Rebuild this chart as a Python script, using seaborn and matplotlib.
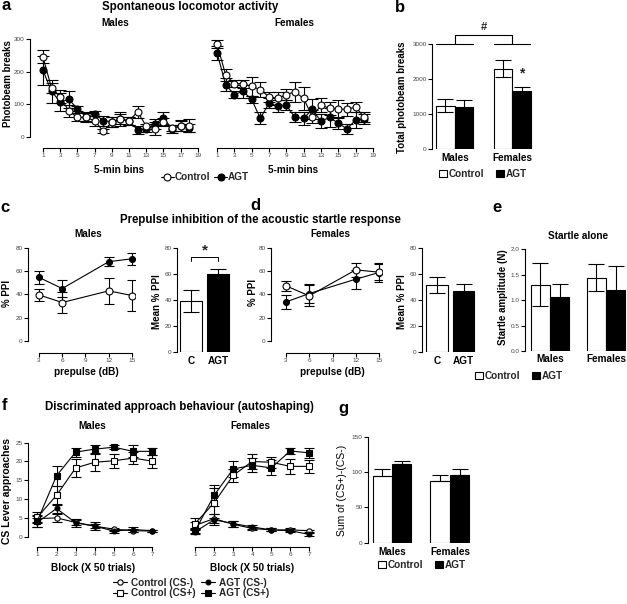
import numpy as np
import pandas as pd
import matplotlib
matplotlib.use("Agg")
import matplotlib.pyplot as plt
import seaborn as sns

sns.set_theme(style="ticks")
plt.rcParams['font.family'] = ['Liberation Sans', 'DejaVu Sans']

W, H = 627, 604

# ---------- data ----------
# a: spontaneous locomotor activity (5-min bins)
bins = list(range(1, 19))
loco_m_ctrl = [245, 150, 123, 80, 60, 60, 50, 18, 45, 55, 50, 77, 33, 25, 45, 28, 33, 35]
loco_m_ctrl_err = [20, 15, 20, 18, 12, 12, 15, 5, 15, 20, 12, 18, 8, 20, 12, 10, 15, 20]
loco_m_agt = [204, 140, 107, 115, 87, 62, 71, 50, 47, 55, 48, 22, 25, 40, 58, 25, 35, 27]
loco_m_agt_err = [45, 35, 28, 25, 8, 15, 8, 15, 15, 15, 12, 12, 10, 15, 20, 12, 18, 12]
loco_f_ctrl = [285, 190, 163, 163, 155, 145, 123, 118, 130, 138, 118, 62, 97, 88, 85, 85, 92, 60]
loco_f_ctrl_err = [12, 18, 10, 12, 28, 22, 15, 20, 18, 30, 35, 20, 22, 20, 28, 20, 15, 15]
loco_f_agt = [258, 160, 130, 140, 115, 57, 103, 95, 97, 60, 57, 85, 48, 60, 42, 25, 52, 55]
loco_f_agt_err = [22, 20, 12, 20, 10, 18, 15, 18, 15, 15, 20, 30, 22, 28, 18, 15, 25, 15]

# b: total photobeam breaks
sexes = ['Males', 'Females']
groups = ['Control', 'AGT']
total_ctrl = [1230, 2300]
total_ctrl_err = [185, 250]
total_agt = [1200, 1650]
total_agt_err = [200, 125]

# c, d: prepulse inhibition
prepulse = [3, 6, 12, 15]
ppi_m_ctrl = [39.5, 33, 43, 39]
ppi_m_ctrl_err = [5.5, 8.7, 11, 13]
ppi_m_agt = [54.5, 45, 68, 70.5]
ppi_m_agt_err = [5.3, 7, 3.7, 5.3]
ppi_f_ctrl = [47.3, 38.7, 61, 59]
ppi_f_ctrl_err = [4.5, 9, 6, 7]
ppi_f_agt = [33.5, 40.7, 53, 58.7]
ppi_f_agt_err = [6, 8, 8, 8]
mean_labels = ['C', 'AGT']
mean_ppi_m = [39, 59.5]
mean_ppi_m_err = [8.5, 4]
mean_ppi_f = [51.3, 46.7]
mean_ppi_f_err = [6, 5]

# e: startle alone
startle_ctrl = [1.3, 1.44]
startle_ctrl_err = [0.42, 0.26]
startle_agt = [1.05, 1.2]
startle_agt_err = [0.27, 0.47]

# f: autoshaping
blocks = list(range(1, 8))
auto_m = {
    'Control (CS-)': ([4.8, 5.0, 3.8, 2.8, 2.0, 1.6, 1.5], [0.8, 1.0, 0.7, 0.6, 0.4, 0.4, 0.3]),
    'Control (CS+)': ([5.2, 11.0, 18.3, 19.8, 20.2, 20.9, 20.1], [1.5, 2.5, 2.3, 2.2, 1.8, 1.6, 1.7]),
    'AGT (CS-)': ([3.8, 7.5, 3.7, 2.8, 1.5, 1.9, 1.6], [1.2, 1.2, 1.0, 1.0, 0.4, 0.6, 0.3]),
    'AGT (CS+)': ([4.2, 16.2, 22.5, 23.3, 23.8, 22.7, 22.7], [1.5, 2.6, 1.2, 1.0, 0.6, 1.6, 1.0]),
}
auto_f = {
    'Control (CS-)': ([3.0, 4.8, 3.3, 2.2, 1.8, 1.8, 1.6], [0.8, 1.2, 0.8, 0.5, 0.4, 0.4, 0.3]),
    'Control (CS+)': ([3.5, 9.0, 16.3, 20.0, 19.8, 18.7, 18.7], [1.5, 4.0, 1.8, 2.0, 1.4, 2.0, 1.8]),
    'AGT (CS-)': ([1.3, 4.5, 3.5, 2.6, 1.8, 1.6, 0.6], [0.5, 1.5, 0.8, 0.5, 0.4, 0.4, 0.3]),
    'AGT (CS+)': ([1.5, 11.0, 18.0, 19.0, 18.3, 22.8, 22.3], [0.6, 2.8, 2.0, 1.8, 2.0, 0.8, 1.3]),
}

# g: sum of CS+ - CS-
sum_ctrl = [95, 87]
sum_ctrl_err = [9, 9]
sum_agt = [112, 96]
sum_agt_err = [3.5, 9]

# ---------- helpers ----------
fig = plt.figure(figsize=(W / 100, H / 100), dpi=100)
fig.patch.set_facecolor('white')

LAB = 7.2     # axis labels / subtitles
YLAB = 7.0    # rotated y labels
TICK = 4.6


def axes_px(x0, y0, x1, y1):
    ax = fig.add_axes([x0 / W, 1 - y1 / H, (x1 - x0) / W, (y1 - y0) / H])
    ax.set_facecolor('none')
    return ax


def txt(x, y, s, size=LAB, rot=0, weight='bold', ha='center'):
    fig.text(x / W, 1 - y / H, s, fontsize=size, rotation=rot, weight=weight,
             ha=ha, va='center', color='black')


def style_axes(ax, yticks, xticks=None, show_y=True):
    for s in ['top', 'right']:
        ax.spines[s].set_visible(False)
    ax.tick_params(axis='both', direction='out', length=3, width=0.8, pad=0.8,
                   labelsize=TICK, labelcolor='#444444', color='black')
    if show_y:
        ax.set_yticks(yticks)
        ax.spines['left'].set_bounds(yticks[0], yticks[-1])
        ax.spines['left'].set_linewidth(0.8)
        ax.spines['left'].set_color('black')
    else:
        ax.spines['left'].set_visible(False)
        ax.set_yticks([])
    if xticks is None:
        ax.spines['bottom'].set_visible(False)
        ax.tick_params(axis='x', length=0, pad=3, labelsize=LAB,
                       labelcolor='black')
        for t in ax.get_xticklabels():
            t.set_fontweight('bold')
    else:
        ax.set_xticks(xticks)
        ax.spines['bottom'].set_bounds(xticks[0], xticks[-1])
        ax.spines['bottom'].set_linewidth(0.8)
        ax.spines['bottom'].set_color('black')
    ax.set_xlabel('')
    ax.set_ylabel('')


def line_series(ax, x, y, err, filled, marker='o', ms=5, cap=4, label=None, z=3):
    sns.lineplot(x=x, y=y, ax=ax, color='black', linewidth=0.8, marker=marker,
                 markersize=ms, markerfacecolor='black' if filled else 'white',
                 markeredgecolor='black', markeredgewidth=0.8, label=label,
                 zorder=z, legend=False)
    ax.errorbar(x, y, yerr=err, fmt='none', ecolor='black', elinewidth=0.8,
                capsize=cap, capthick=0.8, zorder=z - 1)


def bar_groups(ax, cats, ctrl, ctrl_err, agt, agt_err, width, cap=5, both=True):
    df = pd.DataFrame({'cat': cats * 2, 'group': ['Control'] * len(cats) + ['AGT'] * len(cats),
                       'val': list(ctrl) + list(agt)})
    sns.barplot(data=df, x='cat', y='val', hue='group', hue_order=groups, order=cats,
                palette={'Control': 'white', 'AGT': 'black'}, edgecolor='black',
                linewidth=0.8, width=width, errorbar=None, saturation=1, ax=ax)
    for cont, errs in zip(ax.containers, [ctrl_err, agt_err]):
        for bar, e in zip(cont, errs):
            xc = bar.get_x() + bar.get_width() / 2
            lo = e if both else 0
            ax.errorbar([xc], [bar.get_height()], yerr=[[lo], [e]], fmt='none',
                        ecolor='black', elinewidth=0.8, capsize=cap, capthick=0.8,
                        zorder=5)
    leg = ax.get_legend()
    handles, labels = leg.legend_handles, [t.get_text() for t in leg.get_texts()]
    leg.remove()
    return handles, labels


def mean_bars(ax, vals, errs, width):
    sns.barplot(x=mean_labels, y=vals, hue=mean_labels, palette=['white', 'black'],
                edgecolor='black', linewidth=0.8, width=width, errorbar=None,
                saturation=1, legend=False, ax=ax)
    for bar, e in zip(ax.patches, errs):
        ax.errorbar([bar.get_x() + bar.get_width() / 2], [bar.get_height()], yerr=e,
                    fmt='none', ecolor='black', elinewidth=0.8, capsize=6, capthick=0.8)


def bar_legend(handles, labels, x, y):
    fig.legend(handles, labels, loc='center', bbox_to_anchor=(x / W, 1 - y / H),
               ncol=2, frameon=False, handlelength=0.8, handleheight=0.8,
               handletextpad=0.2, columnspacing=1.2,
               prop={'weight': 'bold', 'size': LAB})


# ---------- a: locomotor activity ----------
ax_am = axes_px(30, 39, 200, 148)
line_series(ax_am, bins, loco_m_agt, loco_m_agt_err, True, label='AGT')
line_series(ax_am, bins, loco_m_ctrl, loco_m_ctrl_err, False, label='Control', z=4)
ax_am.set_xlim(-0.5, 19.24)
ax_am.set_ylim(-33.7, 300)
style_axes(ax_am, [0, 100, 200, 300], xticks=list(range(1, 20, 2)))

ax_af = axes_px(204, 39, 375, 148)
line_series(ax_af, bins, loco_f_agt, loco_f_agt_err, True)
line_series(ax_af, bins, loco_f_ctrl, loco_f_ctrl_err, False, z=4)
ax_af.set_xlim(-0.5, 19.24)
ax_af.set_ylim(-33.7, 300)
style_axes(ax_af, [0, 300], xticks=list(range(1, 20, 2)), show_y=False)

h, l = ax_am.get_legend_handles_labels()
fig.legend([h[1], h[0]], [l[1], l[0]], loc='center', bbox_to_anchor=(205 / W, 1 - 177 / H),
           ncol=2, frameon=False, handlelength=1.3, handletextpad=0.1, columnspacing=0.4,
           prop={'weight': 'bold', 'size': LAB})

txt(6, 6, 'a', size=12)
txt(190, 7, 'Spontaneous locomotor activity', size=8.3)
txt(115, 23, 'Males')
txt(294, 23, 'Females')
txt(119, 170, '5-min bins')
txt(293, 170, '5-min bins')
txt(8, 84, 'Photobeam breaks', size=7.0, rot=90)

# ---------- b: total photobeam breaks ----------
ax_b = axes_px(432, 44, 540, 149)
hb, lb = bar_groups(ax_b, sexes, total_ctrl, total_ctrl_err, total_agt, total_agt_err,
                    width=0.65, cap=6)
ax_b.set_xlim(-0.395, 1.48)
ax_b.set_ylim(0, 3000)
style_axes(ax_b, [0, 1000, 2000, 3000])
ax_b.tick_params(axis='x', pad=3)
ax_b.plot([-0.325, 0.32], [3000, 3000], color='black', lw=0.8, clip_on=False)
ax_b.plot([0.675, 1.3], [3000, 3000], color='black', lw=0.8, clip_on=False)
ax_b.plot([0, 0, 1, 1], [3000, 3250, 3250, 3000], color='black', lw=0.8, clip_on=False)
ax_b.text(0.5, 3500, '#', ha='center', va='center', fontsize=8, weight='bold')
ax_b.text(1.1625, 2150, '*', ha='center', va='center', fontsize=10, weight='bold')
bar_legend(hb, lb, 483, 174)
txt(400, 8, 'b', size=12)
txt(402, 97, 'Total photobeam breaks', size=YLAB, rot=90)

# ---------- c: PPI males ----------
ax_c = axes_px(28, 247.7, 135, 353)
line_series(ax_c, prepulse, ppi_m_agt, ppi_m_agt_err, True, ms=4.3, cap=3.5)
line_series(ax_c, prepulse, ppi_m_ctrl, ppi_m_ctrl_err, False, ms=5, cap=3.5, z=4)
ax_c.set_xlim(1.58, 15.39)
ax_c.set_ylim(-10.3, 80)
style_axes(ax_c, [0, 20, 40, 60, 80], xticks=[3, 6, 9, 12, 15])

ax_cb = axes_px(177, 247.7, 240, 351.7)
mean_bars(ax_cb, mean_ppi_m, mean_ppi_m_err, 0.815)
ax_cb.set_xlim(-0.52, 1.8)
ax_cb.set_ylim(0, 80)
style_axes(ax_cb, [0, 20, 40, 60, 80])
ax_cb.plot([0, 0, 1, 1], [70, 73, 73, 70], color='black', lw=0.7, clip_on=False)
ax_cb.text(0.5, 78, '*', ha='center', va='center', fontsize=11, weight='bold')

txt(5, 208, 'c', size=12)
txt(260, 220, 'Prepulse inhibition of the acoustic startle response', size=8.3)
txt(88, 234, 'Males')
txt(86, 372, 'prepulse (dB)')
txt(7, 294, '% PPI', size=YLAB, rot=90)
txt(157, 302, 'Mean % PPI', size=YLAB, rot=90)

# ---------- d: PPI females ----------
ax_d = axes_px(271, 247.7, 382, 353)
line_series(ax_d, prepulse, ppi_f_agt, ppi_f_agt_err, True, ms=4.3, cap=3.5)
line_series(ax_d, prepulse, ppi_f_ctrl, ppi_f_ctrl_err, False, ms=5, cap=3.5, z=4)
ax_d.set_xlim(3 - 15 / 7.75, 15 + 3 / 7.75)
ax_d.set_ylim(-10.3, 80)
style_axes(ax_d, [0, 20, 40, 60, 80], xticks=[3, 6, 9, 12, 15])

ax_db = axes_px(422, 247.7, 485, 351.7)
mean_bars(ax_db, mean_ppi_f, mean_ppi_f_err, 0.81)
ax_db.set_xlim(-0.56, 1.8)
ax_db.set_ylim(0, 80)
style_axes(ax_db, [0, 20, 40, 60, 80])

txt(255, 205, 'd', size=12)
txt(330, 234, 'Females')
txt(332, 372, 'prepulse (dB)')
txt(253, 292, '% PPI', size=YLAB, rot=90)
txt(402, 302, 'Mean % PPI', size=YLAB, rot=90)

# ---------- e: startle alone ----------
ax_e = axes_px(525, 249, 627, 351)
he, le = bar_groups(ax_e, sexes, startle_ctrl, startle_ctrl_err, startle_agt,
                    startle_agt_err, width=0.68, cap=6)
ax_e.set_xlim(-0.446, 1.375)
ax_e.set_ylim(0, 2.0)
style_axes(ax_e, [0.0, 0.5, 1.0, 1.5, 2.0])
ax_e.set_yticklabels(['0.0', '0.5', '1.0', '1.5', '2.0'])
ax_e.tick_params(axis='x', pad=2)
bar_legend(he, le, 519, 376)
txt(497, 208, 'e', size=12)
txt(578, 236, 'Startle alone')
txt(503, 297, 'Startle amplitude (N)', size=YLAB, rot=90)

# ---------- f: autoshaping ----------
styles = {
    'Control (CS-)': ('o', False, 3.8),
    'Control (CS+)': ('s', False, 4.8),
    'AGT (CS-)': ('o', True, 3.5),
    'AGT (CS+)': ('s', True, 4.5),
}
ax_fm = axes_px(28, 442.7, 158, 547)
ax_ff = axes_px(185.7, 442.7, 315, 547)
for ax, data in [(ax_fm, auto_m), (ax_ff, auto_f)]:
    for name in ['Control (CS-)', 'AGT (CS-)', 'Control (CS+)', 'AGT (CS+)']:
        mk, filled, ms = styles[name]
        vals, errs = data[name]
        line_series(ax, blocks, vals, errs, filled, marker=mk, ms=ms, cap=3.5, label=name)
    ax.set_xlim(0.51, 7.3)
    ax.set_ylim(-2.74, 25)
style_axes(ax_fm, [0, 5, 10, 15, 20, 25], xticks=blocks)
style_axes(ax_ff, [0, 25], xticks=blocks, show_y=False)

hf, lf = ax_fm.get_legend_handles_labels()
order = ['Control (CS-)', 'Control (CS+)', 'AGT (CS-)', 'AGT (CS+)']
fig.legend([hf[lf.index(n)] for n in order], order, loc='center',
           bbox_to_anchor=(191 / W, 1 - 588 / H), ncol=2, frameon=False,
           handlelength=1.4, handletextpad=0.4, columnspacing=0.6, labelspacing=0.1,
           prop={'weight': 'bold', 'size': LAB})

txt(4, 405, 'f', size=12)
txt(179, 407, 'Discriminated approach behaviour (autoshaping)', size=8.3)
txt(92, 426, 'Males')
txt(250, 426, 'Females')
txt(93, 568, 'Block (X 50 trials)')
txt(252, 568, 'Block (X 50 trials)')
txt(7, 491, 'CS Lever approaches', size=7.5, rot=90)

# ---------- g: sum ----------
ax_g = axes_px(368, 437, 480, 542.7)
hg, lg = bar_groups(ax_g, sexes, sum_ctrl, sum_ctrl_err, sum_agt, sum_agt_err,
                    width=0.67, cap=6, both=False)
ax_g.set_xlim(-0.414, 1.52)
ax_g.set_ylim(0, 150)
style_axes(ax_g, [0, 50, 100, 150])
ax_g.tick_params(axis='x', pad=3)
bar_legend(hg, lg, 422, 565)
txt(343, 408, 'g', size=12)
txt(342, 490, 'Sum of (CS+)-(CS-)', size=7.5, rot=90, weight='normal')

fig.savefig('out.png', dpi=100, facecolor='white')
